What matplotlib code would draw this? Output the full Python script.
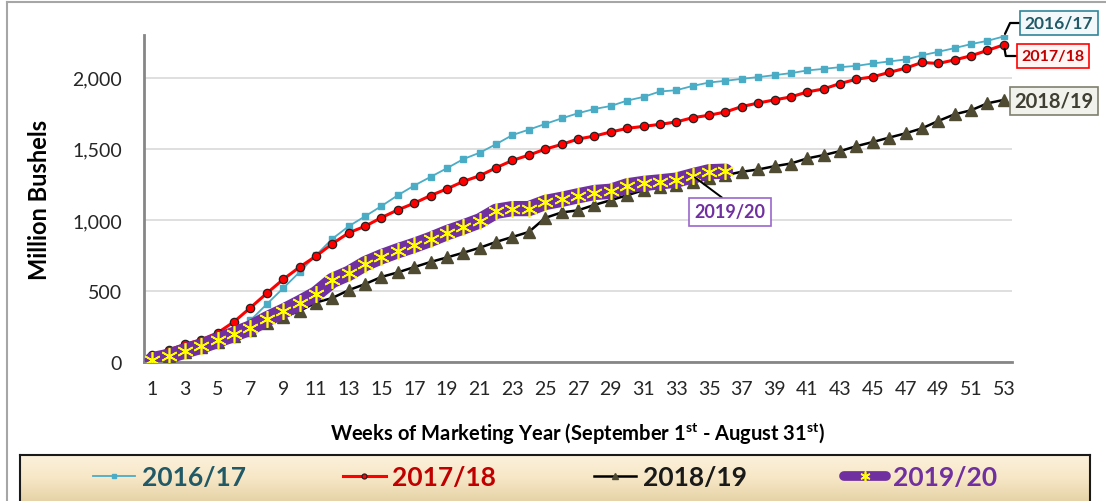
import numpy as np
import matplotlib
matplotlib.use('Agg')
import matplotlib.pyplot as plt
from matplotlib import font_manager
from matplotlib.lines import Line2D

# cumulative exports, million bushels, by week of marketing year
weeks = list(range(1, 54))
y2016 = [20, 45, 82, 118, 162, 215, 295, 409, 521, 634, 752, 868, 956, 1026, 1098, 1174,
         1242, 1303, 1364, 1428, 1473, 1533, 1597, 1635, 1675, 1714, 1750, 1780, 1801, 1839,
         1865, 1903, 1912, 1942, 1966, 1978, 1992, 2004, 2018, 2032, 2051, 2062, 2074, 2083,
         2100, 2114, 2128, 2157, 2182, 2208, 2236, 2259, 2290]
y2017 = [50, 87, 126, 159, 207, 285, 384, 485, 583, 669, 746, 833, 910, 956, 1017, 1071,
         1118, 1172, 1219, 1271, 1311, 1367, 1419, 1456, 1498, 1531, 1569, 1590, 1618, 1644,
         1658, 1672, 1689, 1719, 1736, 1759, 1797, 1822, 1844, 1865, 1900, 1921, 1959, 1989,
         2006, 2037, 2067, 2107, 2100, 2125, 2154, 2192, 2231]
y2018 = [15, 40, 75, 105, 145, 185, 228, 278, 317, 361, 420, 452, 507, 550, 600, 632,
         669, 705, 737, 770, 805, 846, 881, 916, 1015, 1053, 1068, 1106, 1139, 1174,
         1209, 1233, 1245, 1264, 1292, 1315, 1339, 1355, 1378, 1397, 1433, 1456, 1484, 1519,
         1548, 1579, 1609, 1644, 1696, 1743, 1771, 1820, 1844]
y2019 = [18, 42, 80, 113, 155, 197, 242, 305, 359, 418, 481, 575, 625, 693, 742, 784,
         822, 864, 911, 951, 994, 1061, 1080, 1080, 1123, 1145, 1170, 1193, 1202, 1240,
         1257, 1268, 1280, 1311, 1339, 1343]
labels = ['2016/17', '2017/18', '2018/19', '2019/20']
yticks = [0, 500, 1000, 1500, 2000]


def pick_font(names):
    for n in names:
        try:
            font_manager.findfont(font_manager.FontProperties(family=n), fallback_to_default=False)
            return n
        except Exception:
            pass
    return 'DejaVu Sans'


main_font = pick_font(['Lato', 'Open Sans', 'DejaVu Sans'])

plt.rcParams['font.family'] = main_font
plt.rcParams['mathtext.fontset'] = 'custom'
plt.rcParams['mathtext.rm'] = main_font
plt.rcParams['mathtext.bf'] = main_font + ':bold'

fig = plt.figure(figsize=(11.06, 5.02), dpi=100)
ax = fig.add_axes([144 / 1106, 1 - 363.3 / 502, (1012 - 144) / 1106, (363.3 - 36) / 502])

c16, c17, c18, c19 = '#4BACC6', '#FF0000', '#000000', '#7030A0'

l16, = ax.plot(weeks, y2016, color=c16, lw=1.3, marker='s', ms=4, mfc=c16, mec=c16, zorder=3)
l17, = ax.plot(weeks, y2017, color=c17, lw=2.2, marker='o', ms=6, mfc='#FF0000', mec='#222222',
               mew=0.9, zorder=4)
l18, = ax.plot(weeks, y2018, color=c18, lw=1.8, marker='^', ms=8, mfc='#4F4B33', mec='#4F4B33',
               zorder=5)
l19, = ax.plot(weeks[:len(y2019)], y2019, color=c19, lw=11, solid_capstyle='round',
               marker=(6, 2, 0), ms=12, mfc='#FFFF00', mec='#FFFF00', mew=1.2, zorder=6)

ax.set_xlim(0.5, 53.5)
ax.set_ylim(0, 2300)
ax.set_xticks(weeks[::2])
ax.set_yticks(yticks)
ax.set_yticklabels([f'{v:,}' for v in yticks])
ax.tick_params(axis='both', length=0, labelsize=14, colors='#262626')
ax.tick_params(axis='x', pad=13)
ax.tick_params(axis='y', pad=16)
ax.grid(axis='y', color='#D9D9D9', lw=1.2)
ax.set_axisbelow(True)
for s in ['top', 'right']:
    ax.spines[s].set_visible(False)
for s in ['left', 'bottom']:
    ax.spines[s].set_color('#868686')
    ax.spines[s].set_linewidth(2)

ax.set_ylabel('Million Bushels', fontsize=17, fontweight='bold', labelpad=15)
ax.set_xlabel(r'Weeks of Marketing Year (September 1$^{\mathbf{st}}$ - August 31$^{\mathbf{st}}$)',
              fontsize=14.5, fontweight='bold', labelpad=16)

# series labels with connectors
ann = dict(xycoords='data', textcoords='figure pixels', ha='center', va='center',
           fontweight='bold', zorder=10, annotation_clip=False)
ax.annotate(labels[0], xy=(weeks[-1], y2016[-1]), xytext=(1059, 478), fontsize=12.5, color='#215967',
            bbox=dict(boxstyle='square,pad=0.25', fc='#F3F9FB', ec='#31859C', lw=1.2),
            arrowprops=dict(arrowstyle='-', color='black', lw=1.6, relpos=(0, 0.5),
                            connectionstyle='angle,angleA=0,angleB=65,rad=0', shrinkA=0, shrinkB=2), **ann)
ax.annotate(labels[1], xy=(weeks[-1], y2017[-1]), xytext=(1053, 445), fontsize=11.5, color='#C00000',
            bbox=dict(boxstyle='square,pad=0.3', fc='#FFF5F5', ec='#FF0000', lw=1.2),
            arrowprops=dict(arrowstyle='-', color='black', lw=1.6, relpos=(0, 0.5),
                            connectionstyle='angle,angleA=0,angleB=-80,rad=0', shrinkA=0, shrinkB=3), **ann)
ax.annotate(labels[2], xy=(weeks[-1], y2018[-1]), xytext=(1054, 400), fontsize=14.5, color='#3F3F33',
            bbox=dict(boxstyle='square,pad=0.2', fc='#F2F2EC', ec='#7F7F6F', lw=1.2), **ann)
ax.annotate(labels[3], xy=(34, y2019[33]), xytext=(730, 289), fontsize=13, color='#7030A0',
            bbox=dict(boxstyle='square,pad=0.3', fc='white', ec='#9966CC', lw=1.2),
            arrowprops=dict(arrowstyle='-', color='black', lw=1.4, relpos=(0.5, 1),
                            shrinkA=0, shrinkB=2), **ann)

# outer chart border
fig.add_artist(Line2D([7 / 1106, 7 / 1106], [0, 1 - 3 / 502], color='#A6A6A6', lw=1.5))
fig.add_artist(Line2D([7 / 1106, 1], [1 - 3 / 502, 1 - 3 / 502], color='#A6A6A6', lw=1.5))

# legend strip with beige gradient
lax = fig.add_axes([20 / 1106, 0, 1070 / 1106, 46 / 502])
grad = np.linspace(0, 1, 50).reshape(-1, 1)
lax.imshow(grad, aspect='auto', cmap=matplotlib.colors.LinearSegmentedColormap.from_list(
    'beige', ['#FCF1DC', '#F7E7C6', '#E6D3A8']), extent=[0, 1, 0, 1])
lax.set_xticks([])
lax.set_yticks([])
for s in lax.spines.values():
    s.set_color('#1A1A1A')
    s.set_linewidth(1.5)
lax.spines['bottom'].set_visible(False)

leg = fig.legend([l16, l17, l18, l19], labels, loc='center', bbox_to_anchor=(545 / 1106, 24 / 502),
                 ncol=4, frameon=False, handlelength=1.6, columnspacing=3.7, handletextpad=0.25,
                 prop=dict(weight='bold', size=19))
for t, c in zip(leg.get_texts(), ['#215967', '#C00000', '#1A1A1A', '#7030A0']):
    t.set_color(c)
for h in leg.legend_handles:
    h.set_markersize(h.get_markersize() * 0.6)
leg.legend_handles[3].set_linewidth(7)

fig.savefig('out.png', dpi=100)
